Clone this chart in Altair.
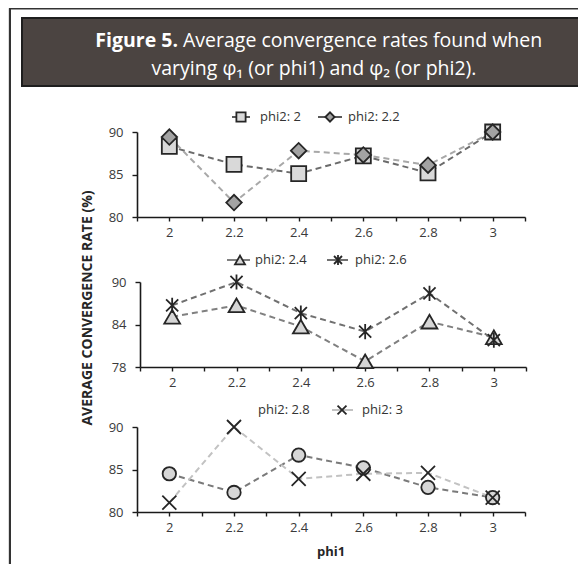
import altair as alt
import pandas as pd

# ---------------- data ----------------
phi1 = [2.0, 2.2, 2.4, 2.6, 2.8, 3.0]
series_names = ["phi2: 2", "phi2: 2.2", "phi2: 2.4", "phi2: 2.6", "phi2: 2.8", "phi2: 3"]
rate_phi2_20 = [88.3, 86.2, 85.1, 87.2, 85.2, 90.0]
rate_phi2_22 = [89.4, 81.7, 87.8, 87.3, 86.1, 90.0]
rate_phi2_24 = [85.1, 86.7, 83.7, 78.8, 84.4, 82.2]
rate_phi2_26 = [86.7, 90.0, 85.6, 83.0, 88.4, 81.8]
rate_phi2_28 = [84.5, 82.3, 86.7, 85.2, 82.9, 81.7]
rate_phi2_30 = [81.1, 90.0, 83.9, 84.5, 84.6, 81.7]

x_tick_values = [1.9, 2.0, 2.1, 2.2, 2.3, 2.4, 2.5, 2.6, 2.7, 2.8, 2.9, 3.0, 3.1]
x_label_values = [2, 2.2, 2.4, 2.6, 2.8, 3]
y_ticks_top = [80, 85, 90]
y_ticks_mid = [78, 84, 90]
y_ticks_bot = [80, 85, 90]

title_bold = "Figure 5."
title_rest = "Average convergence rates found when"
title_line2 = "varying φ₁ (or phi1) and φ₂ (or phi2)."
y_title = "AVERAGE CONVERGENCE RATE (%)"
x_title = "phi1"

rows = []
for name, vals in zip(series_names, [rate_phi2_20, rate_phi2_22, rate_phi2_24,
                                     rate_phi2_26, rate_phi2_28, rate_phi2_30]):
    for p, v in zip(phi1, vals):
        rows.append({"series": name, "phi1": p, "rate": v})
df = pd.DataFrame(rows)

FONT = "Open Sans"
DARK = "#262626"
ASTERISK = "M-0.8,-0.8L0.8,0.8M-0.8,0.8L0.8,-0.8M0,-1L0,1"
XMARK = "M-1,-1L1,1M-1,1L1,-1"

styles = {
    "phi2: 2":   dict(line="#6b6b6b", shape="square", size=225, fill="#d9d9d9", filled=True),
    "phi2: 2.2": dict(line="#a8a8a8", shape="diamond", size=240, fill="#a3a3a3", filled=True),
    "phi2: 2.4": dict(line="#808080", shape="triangle-up", size=250, fill="#d6d6d6", filled=True),
    "phi2: 2.6": dict(line="#707070", shape=ASTERISK, size=230, fill=None, filled=False),
    "phi2: 2.8": dict(line="#7a7a7a", shape="circle", size=180, fill="#d6d6d6", filled=True),
    "phi2: 3":   dict(line="#c2c2c2", shape=XMARK, size=196, fill=None, filled=False),
}

one = alt.InlineData(values=[{"a": 1}])

label_expr = "indexof([2,2.2,2.4,2.6,2.8,3], datum.value) >= 0 ? format(datum.value, '~g') : ''"


def point_mark(st, size):
    if st["filled"]:
        return dict(shape=st["shape"], size=size, filled=True, fill=st["fill"],
                    stroke=DARK, strokeWidth=1.8, opacity=1)
    return dict(shape=st["shape"], size=size, filled=False, stroke=DARK,
                strokeWidth=1.8, opacity=1)


def panel(names, ydom, yticks, xrange, yrange, H):
    xs = alt.Scale(domain=[1.9, 3.1], range=xrange, nice=False, zero=False)
    ys = alt.Scale(domain=ydom, range=yrange, nice=False, zero=False)
    xaxis = alt.Axis(orient="bottom", offset=yrange[0] - H, values=x_tick_values,
                     labelExpr=label_expr, title=None, grid=False, tickSize=4,
                     labelFlush=False, labelPadding=5, labelFont=FONT, labelFontSize=13,
                     labelColor="#3a3a3a", domainColor="#1a1a1a", domainWidth=1.6,
                     tickColor="#1a1a1a", tickWidth=1.4, labelOverlap=False)
    yaxis = alt.Axis(orient="left", offset=-xrange[0], values=yticks, title=None,
                     grid=False, tickSize=5, labelPadding=9, labelFont=FONT,
                     labelFontSize=13, labelColor="#3a3a3a", domainColor="#1a1a1a",
                     domainWidth=1.6, tickColor="#1a1a1a", tickWidth=1.4)
    enc = dict(x=alt.X("phi1:Q", scale=xs, axis=xaxis),
               y=alt.Y("rate:Q", scale=ys, axis=yaxis))
    layers = []
    for n in names:
        st = styles[n]
        layers.append(alt.Chart(df).transform_filter(alt.datum.series == n)
                      .mark_line(color=st["line"], strokeDash=[6, 4], strokeWidth=2)
                      .encode(**enc))
    for n in names:
        st = styles[n]
        layers.append(alt.Chart(df).transform_filter(alt.datum.series == n)
                      .mark_point(**point_mark(st, st["size"]))
                      .encode(**enc))
    return alt.layer(*layers)


def legend_item(name, y, x0, x1, xm, xt, line_color, show_symbol=True, sym_size=90):
    parts = []
    if show_symbol:
        parts.append(alt.Chart(one).mark_rule(color=line_color, strokeWidth=2).encode(
            x=alt.value(x0), x2=alt.value(x1), y=alt.value(y)))
        parts.append(alt.Chart(one).mark_point(**point_mark(styles[name], sym_size)).encode(
            x=alt.value(xm), y=alt.value(y)))
    parts.append(alt.Chart(one).mark_text(text=name, font=FONT, fontSize=13, color="#333333",
                                          align="left", baseline="middle").encode(
        x=alt.value(xt), y=alt.value(y)))
    return parts


W, H = 570, 556

frame = [
    alt.Chart(one).mark_rule(color="#333333", strokeWidth=2).encode(
        x=alt.value(2), x2=alt.value(W), y=alt.value(0.5)),
    alt.Chart(one).mark_rule(color="#333333", strokeWidth=2).encode(
        x=alt.value(2), y=alt.value(0), y2=alt.value(H)),
]

title_box = alt.Chart(one).mark_rect(fill="#4b4441", stroke="#1e1e1e", strokeWidth=2).encode(
    x=alt.value(14), x2=alt.value(574), y=alt.value(10), y2=alt.value(78))

TFS = 19.5
title_texts = [
    alt.Chart(one).mark_text(text=title_bold, font=FONT, fontSize=TFS, fontWeight="bold",
                             color="white", align="right", baseline="alphabetic").encode(
        x=alt.value(170), y=alt.value(39)),
    alt.Chart(one).mark_text(text=title_rest, font=FONT, fontSize=TFS, color="white",
                             align="left", baseline="alphabetic").encode(
        x=alt.value(175), y=alt.value(39)),
    alt.Chart(one).mark_text(text=title_line2, font=FONT, fontSize=TFS, color="white",
                             align="center", baseline="alphabetic").encode(
        x=alt.value(306), y=alt.value(67)),
]

axis_titles = [
    alt.Chart(one).mark_text(text=y_title, font=FONT, fontSize=14, fontWeight="bold",
                             color=DARK, angle=270, align="center", baseline="middle").encode(
        x=alt.value(80), y=alt.value(300)),
    alt.Chart(one).mark_text(text=x_title, font=FONT, fontSize=13, fontWeight="bold",
                             color=DARK, align="center", baseline="middle").encode(
        x=alt.value(323), y=alt.value(544)),
]

legends = []
legends += legend_item("phi2: 2", 109, 224, 242, 233, 252, "#595959", sym_size=85)
legends += legend_item("phi2: 2.2", 109, 310, 334, 322, 340, "#595959", sym_size=85)
legends += legend_item("phi2: 2.4", 252, 219, 242, 232, 247, "#808080", sym_size=100)
legends += legend_item("phi2: 2.6", 252, 319, 340, 330, 347, "#707070", sym_size=100)
legends += legend_item("phi2: 2.8", 402, 0, 0, 0, 250, "#7a7a7a", show_symbol=False)
legends += legend_item("phi2: 3", 402, 324, 345, 334, 354, "#c2c2c2", sym_size=80)

p1 = panel(["phi2: 2", "phi2: 2.2"], [80, 90], y_ticks_top, [129, 517], [209, 124], H)
p2 = panel(["phi2: 2.4", "phi2: 2.6"], [78, 90], y_ticks_mid, [132, 518], [359, 274], H)
p3 = panel(["phi2: 2.8", "phi2: 3"], [80, 90], y_ticks_bot, [129, 517], [504, 419], H)

chart = alt.layer(
    *frame, title_box, *title_texts, *axis_titles, *legends, p1, p2, p3
).resolve_scale(x="independent", y="independent").properties(
    width=W, height=H, padding=0, autosize=alt.AutoSizeParams(type="none")
).configure_view(stroke=None).configure(font=FONT, background="white")

chart.save("out.html", embed_options={"renderer": "svg", "actions": False})
